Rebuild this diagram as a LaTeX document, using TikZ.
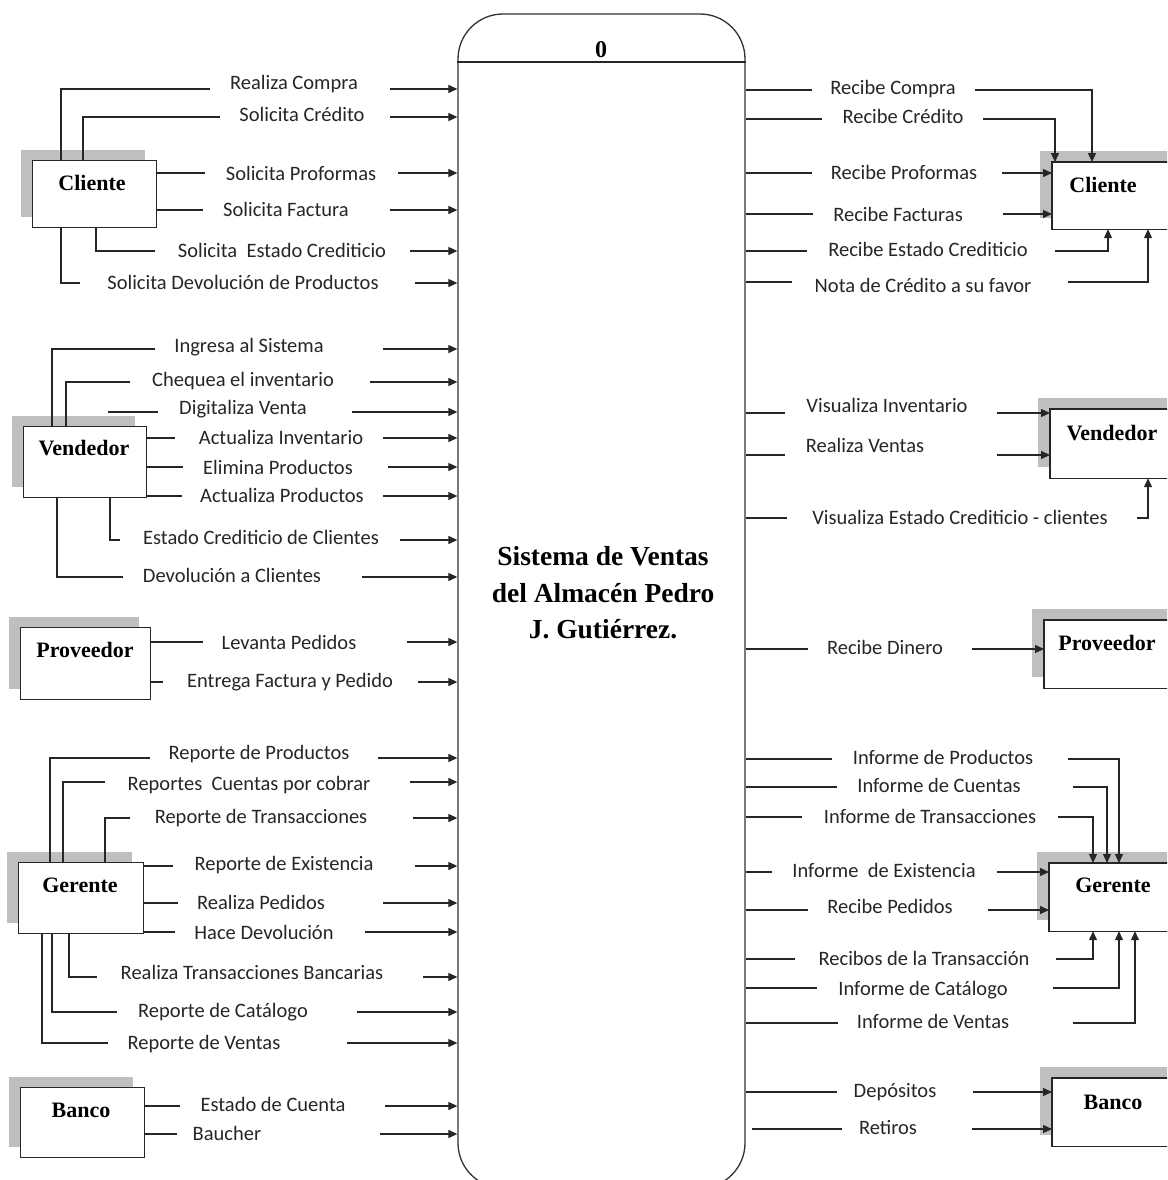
\documentclass[tikz,border=0pt]{standalone}
\usepackage{fontspec}
\setmainfont{Liberation Serif}
\newfontfamily\labfont{Carlito}
\usetikzlibrary{arrows.meta,shadows}
\tikzset{
  ent/.style={draw=black!85, fill=white, line width=1.2pt, inner sep=0pt, anchor=north west,
    general shadow={shadow xshift=-12pt, shadow yshift=11pt, fill=black!25}},
  entr/.style={draw=none, inner sep=0pt, anchor=north west},
  shade/.style={fill=black!25, draw=none},
  entname/.style={font=\fontsize{22}{24}\selectfont\bfseries, anchor=base, yshift=-7pt, inner sep=0pt},
  lab/.style={font=\labfont\fontsize{20.5}{22}\selectfont, text=black!85, anchor=base, yshift=-7pt, inner sep=0pt},
  arr/.style={-{Triangle[length=9pt,width=8pt]}}
}
\begin{document}
\begin{tikzpicture}[x=1pt,y=-1pt,line width=1.2pt, draw=black!85]
\fill[white] (0,0) rectangle (1167,1180);
\useasboundingbox (0,0) rectangle (1167,1180);
\clip (0,0) rectangle (1167,1180);
% process
\node[draw=black!80, rounded corners=45pt, minimum width=287pt, minimum height=1174pt, inner sep=0pt, line width=1.3pt] (P) at (601.5,601) {};
\draw (P.west |- 0,62) -- (P.east |- 0,62);
\node[font=\fontsize{24}{26}\selectfont\bfseries] (n0) at (601,50) {0};
\node[align=center, font=\fontsize{27.5}{36.5}\selectfont\bfseries] (title) at (603,593) {Sistema de Ventas\\del Almac\'en Pedro\\J. Guti\'errez.};
% ===== left entities
\node[ent, minimum width=124pt, minimum height=67pt] (cl) at (32,160) {};
\node[entname] (clt) at (92,183) {Cliente};
\node[ent, minimum width=123pt, minimum height=71pt] (vl) at (23,426) {};
\node[entname] (vlt) at (84,448) {Vendedor};
\node[ent, minimum width=130pt, minimum height=72pt] (pl) at (20,627) {};
\node[entname] (plt) at (85,650) {Proveedor};
\node[ent, minimum width=125pt, minimum height=71pt] (gl) at (18,862) {};
\node[entname] (glt) at (80,885) {Gerente};
\node[ent, minimum width=124pt, minimum height=70pt] (bl) at (20,1087) {};
\node[entname] (blt) at (81,1110) {Banco};
% ===== right entities (cut by the right edge of the picture)
\node[entr, minimum width=160pt, minimum height=66pt] (cr) at (1052,162) {};
\node[entr, minimum width=160pt, minimum height=68pt] (vr) at (1050,409) {};
\node[entr, minimum width=160pt, minimum height=67pt] (pr) at (1044,620) {};
\node[entr, minimum width=160pt, minimum height=67pt] (gr) at (1049,863) {};
\node[entr, minimum width=160pt, minimum height=67pt] (br) at (1052,1078) {};
\foreach \b in {cr,vr,pr,gr,br}{
  \fill[shade] ([xshift=-12pt,yshift=11pt]\b.north west) rectangle ([yshift=11pt]\b.south west);
  \fill[shade] ([xshift=-12pt,yshift=11pt]\b.north west) rectangle ([xshift=-12pt]\b.north east);
  \draw (\b.north east) -- (\b.north west) -- (\b.south west) -- (\b.south east);
}
\node[entname] (crt) at (1103,185) {Cliente};
\node[entname] (vrt) at (1112,433) {Vendedor};
\node[entname] (prt) at (1107,643) {Proveedor};
\node[entname] (grt) at (1113,885) {Gerente};
\node[entname] (brt) at (1113,1102) {Banco};
% ===== left Cliente flows
\draw (cl.north -| 61,0) |- (210,89);  \draw[arr] (390,89) -- (P.west |- 0,89);
\node[lab] (a1) at (294,83) {Realiza Compra};
\draw (cl.north -| 83,0) |- (220,117); \draw[arr] (390,117) -- (P.west |- 0,117);
\node[lab] (a2) at (302,115) {Solicita Cr\'edito};
\draw (cl.east |- 0,173) -- (205,173); \draw[arr] (398,173) -- (P.west |- 0,173);
\node[lab] (a3) at (301,173) {Solicita Proformas};
\draw (cl.east |- 0,210) -- (203,210); \draw[arr] (390,210) -- (P.west |- 0,210);
\node[lab] (a4) at (286,209) {Solicita Factura};
\draw (cl.south -| 96,0) |- (155,251); \draw[arr] (410,251) -- (P.west |- 0,251);
\node[lab] (a5) at (282,250) {Solicita~ Estado Crediticio};
\draw (cl.south -| 61,0) |- (80,283); \draw[arr] (415,283) -- (P.west |- 0,283);
\node[lab] (a6) at (243,282) {Solicita Devoluci\'on de Productos};
% ===== left Vendedor flows
\draw (vl.north -| 52,0) |- (155,349); \draw[arr] (383,349) -- (P.west |- 0,349);
\node[lab] (b1) at (249,345) {Ingresa al Sistema};
\draw (vl.north -| 66,0) |- (130,382); \draw[arr] (370,382) -- (P.west |- 0,382);
\node[lab] (b2) at (243,379) {Chequea el inventario};
\coordinate (dv) at (108,412);
\draw (dv) -- (158,412); \draw[arr] (352,412) -- (P.west |- 0,412);
\node[lab] (b3) at (243,407) {Digitaliza Venta};
\draw (vl.east |- 0,438) -- (175,438); \draw[arr] (383,438) -- (P.west |- 0,438);
\node[lab] (b4) at (281,437) {Actualiza Inventario};
\draw (vl.east |- 0,467) -- (183,467); \draw[arr] (388,467) -- (P.west |- 0,467);
\node[lab] (b5) at (278,467) {Elimina Productos};
\draw (vl.east |- 0,496) -- (182,496); \draw[arr] (383,496) -- (P.west |- 0,496);
\node[lab] (b6) at (282,495) {Actualiza Productos};
\draw (vl.south -| 110,0) |- (120,540); \draw[arr] (400,540) -- (P.west |- 0,540);
\node[lab] (b7) at (261,537) {Estado Crediticio de Clientes};
\draw (vl.south -| 57,0) |- (123,577); \draw[arr] (362,577) -- (P.west |- 0,577);
\node[lab] (b8) at (232,575) {Devoluci\'on a Clientes};
% ===== left Proveedor flows
\draw (pl.east |- 0,642) -- (203,642); \draw[arr] (407,642) -- (P.west |- 0,642);
\node[lab] (c1) at (289,642) {Levanta Pedidos};
\draw (pl.east |- 0,682) -- (163,682); \draw[arr] (418,682) -- (P.west |- 0,682);
\node[lab] (c2) at (290,680) {Entrega Factura y Pedido};
% ===== left Gerente flows
\draw (gl.north -| 50,0) |- (150,758); \draw[arr] (378,758) -- (P.west |- 0,758);
\node[lab] (d1) at (259,752) {Reporte de Productos};
\draw (gl.north -| 63,0) |- (105,782); \draw[arr] (410,782) -- (P.west |- 0,782);
\node[lab] (d2) at (249,783) {Reportes~ Cuentas por cobrar};
\draw (gl.north -| 105,0) |- (130,818); \draw[arr] (413,818) -- (P.west |- 0,818);
\node[lab] (d3) at (261,816) {Reporte de Transacciones};
\draw (gl.east |- 0,866) -- (173,866); \draw[arr] (415,866) -- (P.west |- 0,866);
\node[lab] (d4) at (284,863) {Reporte de Existencia};
\draw (gl.east |- 0,903) -- (178,903); \draw[arr] (383,903) -- (P.west |- 0,903);
\node[lab] (d5) at (261,902) {Realiza Pedidos};
\draw (gl.east |- 0,932) -- (175,932); \draw[arr] (365,932) -- (P.west |- 0,932);
\node[lab] (d6) at (264,932) {Hace Devoluci\'on};
\draw (gl.south -| 69,0) |- (97,977); \draw[arr] (423,977) -- (P.west |- 0,977);
\node[lab] (d7) at (252,972) {Realiza Transacciones Bancarias};
\draw (gl.south -| 52,0) |- (117,1012); \draw[arr] (357,1012) -- (P.west |- 0,1012);
\node[lab] (d8) at (223,1010) {Reporte de Cat\'alogo};
\draw (gl.south -| 42,0) |- (108,1043); \draw[arr] (347,1043) -- (P.west |- 0,1043);
\node[lab] (d9) at (204,1042) {Reporte de Ventas};
% ===== left Banco flows
\draw (bl.east |- 0,1106) -- (180,1106); \draw[arr] (385,1106) -- (P.west |- 0,1106);
\node[lab] (e1) at (273,1104) {Estado de Cuenta};
\draw (bl.east |- 0,1134) -- (177,1134); \draw[arr] (380,1134) -- (P.west |- 0,1134);
\node[lab] (e2) at (227,1133) {Baucher};
% ===== right Cliente flows
\draw (P.east |- 0,90) -- (812,90); \draw[arr] (975,90) -| (cr.north -| 1092,0);
\node[lab] (f1) at (893,88) {Recibe Compra};
\draw (P.east |- 0,119) -- (822,119); \draw[arr] (983,119) -| (cr.north -| 1055,0);
\node[lab] (f2) at (903,117) {Recibe Cr\'edito};
\draw (P.east |- 0,173) -- (812,173); \draw[arr] (1002,173) -- (cr.west |- 0,173);
\node[lab] (f3) at (904,172) {Recibe Proformas};
\draw (P.east |- 0,214) -- (813,214); \draw[arr] (1003,214) -- (cr.west |- 0,214);
\node[lab] (f4) at (898,214) {Recibe Facturas};
\draw (P.east |- 0,251) -- (807,251); \draw[arr] (1055,251) -| (cr.south -| 1108,0);
\node[lab] (f5) at (928,249) {Recibe Estado Crediticio};
\draw (P.east |- 0,282) -- (792,282); \draw[arr] (1068,282) -| (cr.south -| 1148,0);
\node[lab] (f6) at (923,285) {Nota de Cr\'edito a su favor};
% ===== right Vendedor flows
\draw (P.east |- 0,413) -- (785,413); \draw[arr] (997,413) -- (vr.west |- 0,413);
\node[lab] (g1) at (887,405) {Visualiza Inventario};
\draw (P.east |- 0,455) -- (785,455); \draw[arr] (997,455) -- (vr.west |- 0,455);
\node[lab] (g2) at (865,445) {Realiza Ventas};
\draw (P.east |- 0,518) -- (787,518); \draw[arr] (1137,518) -| (vr.south -| 1148,0);
\node[lab] (g3) at (960,517) {Visualiza Estado Crediticio - clientes};
% ===== right Proveedor flow
\draw (P.east |- 0,649) -- (808,649); \draw[arr] (972,649) -- (pr.west |- 0,649);
\node[lab] (h1) at (885,647) {Recibe Dinero};
% ===== right Gerente flows
\draw (P.east |- 0,759) -- (832,759); \draw[arr] (1068,759) -| (gr.north -| 1119,0);
\node[lab] (i1) at (943,757) {Informe de Productos};
\draw (P.east |- 0,787) -- (837,787); \draw[arr] (1073,787) -| (gr.north -| 1107,0);
\node[lab] (i2) at (939,785) {Informe de Cuentas};
\draw (P.east |- 0,817) -- (802,817); \draw[arr] (1058,817) -| (gr.north -| 1093,0);
\node[lab] (i3) at (930,816) {Informe de Transacciones};
\draw (P.east |- 0,872) -- (772,872); \draw[arr] (997,872) -- (gr.west |- 0,872);
\node[lab] (i4) at (884,870) {Informe~ de Existencia};
\draw (P.east |- 0,910) -- (808,910); \draw[arr] (988,910) -- (gr.west |- 0,910);
\node[lab] (i5) at (890,906) {Recibe Pedidos};
\draw (P.east |- 0,959) -- (795,959); \draw[arr] (1056,959) -| (gr.south -| 1093,0);
\node[lab] (i6) at (924,958) {Recibos de la Transacci\'on};
\draw (P.east |- 0,988) -- (817,988); \draw[arr] (1053,988) -| (gr.south -| 1119,0);
\node[lab] (i7) at (923,988) {Informe de Cat\'alogo};
\draw (P.east |- 0,1023) -- (838,1023); \draw[arr] (1073,1023) -| (gr.south -| 1135,0);
\node[lab] (i8) at (933,1021) {Informe de Ventas};
% ===== right Banco flows
\draw (P.east |- 0,1092) -- (837,1092); \draw[arr] (973,1092) -- (br.west |- 0,1092);
\node[lab] (j1) at (895,1090) {Dep\'ositos};
\coordinate (rt) at (752,1129);
\draw (rt) -- (842,1129); \draw[arr] (972,1129) -- (br.west |- 0,1129);
\node[lab] (j2) at (888,1127) {Retiros};
\end{tikzpicture}
\end{document}
